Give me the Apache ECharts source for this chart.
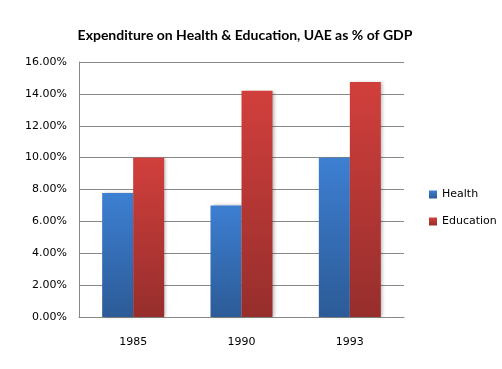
<!DOCTYPE html>
<html><head><meta charset="utf-8">
<script src="https://cdn.jsdelivr.net/npm/echarts@6/dist/echarts.min.js"></script>
<style>html,body{margin:0;padding:0;background:#fff}#c{width:502px;height:369px}</style>
</head><body><div id="c"></div>
<script>
var categories = ['1985', '1990', '1993'];
var health = [7.78, 7.0, 10.0];
var education = [10.0, 14.2, 14.75];
var yTicks = [0, 2, 4, 6, 8, 10, 12, 14, 16];

var chart = echarts.init(document.getElementById('c'));
function grad(top, bottom) {
  return new echarts.graphic.LinearGradient(0, 0, 0, 1, [{offset: 0, color: top}, {offset: 1, color: bottom}]);
}
chart.setOption({
  animation: false,
  title: {
    text: 'Expenditure on Health & Education, UAE as % of GDP',
    left: 240, top: 23, textAlign: 'center',
    textStyle: {fontFamily: 'Lato', fontWeight: 'bold', fontSize: 14, color: '#000'}
  },
  legend: {
    orient: 'vertical', left: 424, top: 184, itemWidth: 8, itemHeight: 8, itemGap: 16,
    icon: 'rect',
    textStyle: {fontFamily: 'DejaVu Sans', fontSize: 11, color: '#000'},
    data: ['Health', 'Education']
  },
  grid: {left: 79, top: 62, width: 325, height: 255, containLabel: false},
  xAxis: {
    type: 'category', data: categories,
    axisLine: {lineStyle: {color: '#888', width: 1}},
    axisTick: {show: false},
    axisLabel: {fontFamily: 'DejaVu Sans', fontSize: 11, color: '#000', margin: 20}
  },
  yAxis: {
    type: 'value', min: 0, max: 16, interval: 2,
    axisLine: {show: true, lineStyle: {color: '#888'}},
    axisTick: {show: false},
    splitLine: {lineStyle: {color: '#888'}},
    axisLabel: {fontFamily: 'DejaVu Sans', fontSize: 11, color: '#000', margin: 12,
      formatter: function (v) { return v.toFixed(2) + '%'; }}
  },
  series: [
    {name: 'Health', type: 'bar', data: health, barWidth: 31, barGap: '0%',
     itemStyle: {color: grad('#3D7FD2', '#2C5B97'), shadowColor: 'rgba(0,0,0,0.25)', shadowBlur: 3, shadowOffsetX: 2}},
    {name: 'Education', type: 'bar', data: education, barWidth: 31, barGap: '0%',
     itemStyle: {color: grad('#D13F3C', '#962E2C'), shadowColor: 'rgba(0,0,0,0.25)', shadowBlur: 3, shadowOffsetX: 2}}
  ]
});
</script></body></html>
